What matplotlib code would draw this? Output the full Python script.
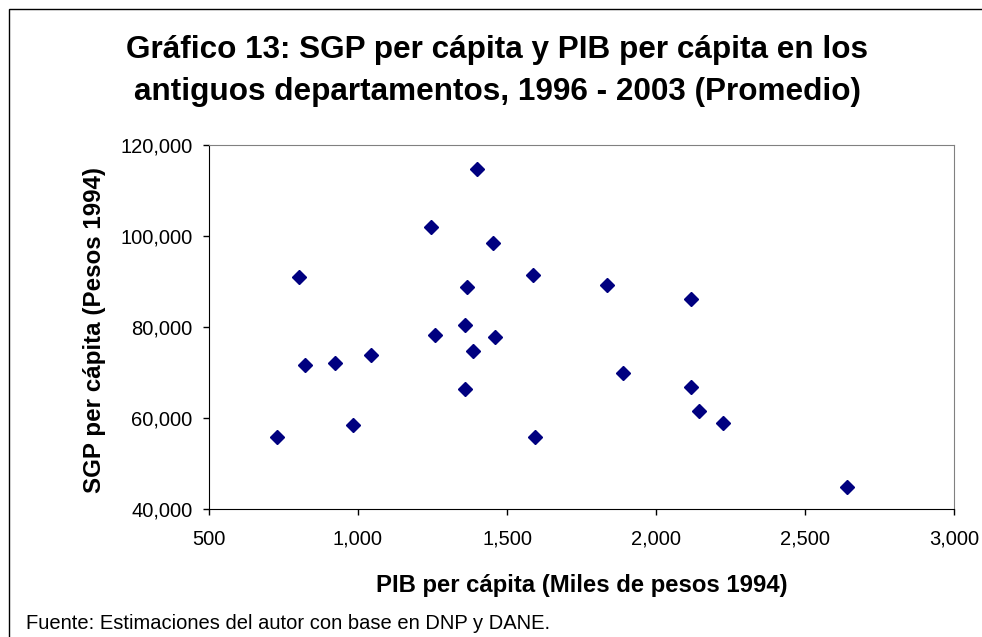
import matplotlib.pyplot as plt
from matplotlib.ticker import FuncFormatter
from matplotlib.patches import Rectangle

plt.rcParams['font.family'] = ['Liberation Sans', 'DejaVu Sans']

# PIB per capita (miles de pesos 1994) and SGP per capita (pesos 1994)
pib = [1398, 1244, 1452, 801, 1586, 1835, 1365, 2116, 1358, 1257, 1459,
       1385, 1043, 821, 922, 1888, 2116, 1358, 2143, 982, 2224, 727, 1593, 2640]
sgp = [114725, 102044, 98400, 90989, 91429, 89231, 88725, 86088, 80440, 78242, 77802,
       74725, 73846, 71648, 72088, 69824, 66747, 66374, 61538, 58462, 58901, 55824, 55824, 44769]

x_ticks = [500, 1000, 1500, 2000, 2500, 3000]
y_ticks = [40000, 60000, 80000, 100000, 120000]

W, H = 982, 637
fig = plt.figure(figsize=(W / 100, H / 100), dpi=100)

# outer frame of the chart object
fig.patches.append(Rectangle((9 / W, -0.05), 1.2, 1 - 9 / H + 0.05,
                             transform=fig.transFigure, fill=False,
                             edgecolor='black', linewidth=1.0))

ax = fig.add_axes([209 / W, 1 - 509 / H, (954 - 209) / W, (509 - 145) / H])
ax.plot(pib, sgp, linestyle='none', marker='D', markersize=7.2,
        color='#000080', markeredgecolor='#000080', clip_on=False)

ax.set_xlim(500, 3000)
ax.set_ylim(40000, 120000)
ax.set_xticks(x_ticks)
ax.set_yticks(y_ticks)
fmt = FuncFormatter(lambda v, p: '{:,.0f}'.format(v))
ax.xaxis.set_major_formatter(fmt)
ax.yaxis.set_major_formatter(fmt)
ax.tick_params(direction='out', length=4, width=1, labelsize=14.5)
ax.tick_params(axis='y', pad=8)
ax.tick_params(axis='x', pad=11)

for side in ['top', 'right']:
    ax.spines[side].set_color('#808080')
for side in ['left', 'bottom']:
    ax.spines[side].set_color('black')

# axis titles placed in pixel coordinates
fig.text(582 / W, 1 - 592 / H, 'PIB per cápita (Miles de pesos 1994)',
         ha='center', va='baseline', fontsize=17.2, fontweight='bold')
fig.text(101 / W, 1 - 330 / H, 'SGP per cápita (Pesos 1994)',
         ha='center', va='baseline', rotation=90, rotation_mode='anchor',
         fontsize=17.4, fontweight='bold')

fig.text(497 / W, 1 - 58 / H, 'Gráfico 13: SGP per cápita y PIB per cápita en los',
         ha='center', va='baseline', fontsize=22.7, fontweight='bold')
fig.text(497 / W, 1 - 100 / H, 'antiguos departamentos, 1996 - 2003 (Promedio)',
         ha='center', va='baseline', fontsize=22.7, fontweight='bold')

fig.text(26 / W, 1 - 629 / H, 'Fuente: Estimaciones del autor con base en DNP y DANE.',
         ha='left', va='baseline', fontsize=14.5)

plt.savefig('out.png', dpi=100)
